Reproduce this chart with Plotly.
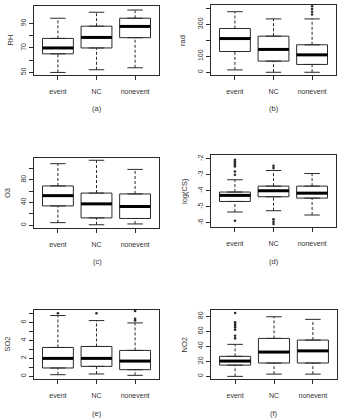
import plotly.graph_objects as go

W, H = 344, 419
categories = ["event", "NC", "nonevent"]

# ---- data ----
rh_low = [50, 52.2, 53.8]
rh_q1 = [65.2, 70.0, 78.4]
rh_med = [70.0, 78.6, 87.6]
rh_q3 = [77.8, 87.8, 94.3]
rh_high = [94.3, 99.2, 101.0]
rh_out = [[], [], []]

rad_low = [15, 0, 0]
rad_q1 = [130, 70, 49]
rad_med = [211, 143, 109]
rad_q3 = [274, 226, 172]
rad_high = [379, 334, 334]
rad_out = [[], [], [362, 379, 396, 413]]

o3_low = [4.7, 1.0, 2.4]
o3_q1 = [34, 13, 12]
o3_med = [52, 37.6, 33]
o3_q3 = [69, 56.5, 55]
o3_high = [108, 114, 98]
o3_out = [[], [], []]

cs_low = [-5.33, -5.25, -5.52]
cs_q1 = [-4.67, -4.375, -4.46]
cs_med = [-4.29, -4.0, -4.15]
cs_q3 = [-4.08, -3.71, -3.71]
cs_high = [-3.31, -2.73, -2.92]
cs_out = [[-2.06, -2.17, -2.27, -2.38, -2.48, -2.79, -3.0, -5.88],
          [-2.44, -2.58, -5.79, -5.94, -6.08], []]

so2_low = [0.18, 0.26, 0.11]
so2_q1 = [0.93, 1.11, 0.74]
so2_med = [2.0, 2.0, 1.7]
so2_q3 = [3.22, 3.33, 2.89]
so2_high = [6.78, 6.22, 5.96]
so2_out = [[7.04], [7.04], [6.22, 6.41, 7.3]]

no2_low = [0, 3, 3]
no2_q1 = [15, 17.8, 17.8]
no2_med = [20.4, 32.4, 34]
no2_q3 = [26.7, 50.6, 48.4]
no2_high = [42.7, 79.5, 76]
no2_out = [[50.7, 54.2, 62.2, 65.3, 67.6, 69.8, 72, 84.4], [], []]

panels = [
    dict(name="RH", tag="(a)", low=rh_low, q1=rh_q1, med=rh_med, q3=rh_q3, high=rh_high, out=rh_out,
         yr=[47.9, 104.3], tv=[50, 60, 70, 80, 90], tt=["50", "", "70", "", "90"],
         px=(34, 159, 6, 75), title_x=10, tag_xy=(97, 108)),
    dict(name="rad", tag="(b)", low=rad_low, q1=rad_q1, med=rad_med, q3=rad_q3, high=rad_high, out=rad_out,
         yr=[-17, 421], tv=[0, 100, 200, 300, 400], tt=["0", "100", "", "300", ""],
         px=(211, 336, 5, 75), title_x=183, tag_xy=(274, 108)),
    dict(name="O3", tag="(c)", low=o3_low, q1=o3_q1, med=o3_med, q3=o3_q3, high=o3_high, out=o3_out,
         yr=[-4.7, 118], tv=[0, 20, 40, 60, 80, 100], tt=["0", "", "40", "", "80", ""],
         px=(34, 159, 158, 228), title_x=7, tag_xy=(97, 261)),
    dict(name="log(CS)", tag="(d)", low=cs_low, q1=cs_q1, med=cs_med, q3=cs_q3, high=cs_high, out=cs_out,
         yr=[-6.27, -1.76], tv=[-6, -5, -4, -3, -2], tt=["-6", "-5", "-4", "-3", "-2"],
         px=(211, 336, 155, 227), title_x=184, tag_xy=(274, 261)),
    dict(name="SO2", tag="(e)", low=so2_low, q1=so2_q1, med=so2_med, q3=so2_q3, high=so2_high, out=so2_out,
         yr=[-0.3, 7.4], tv=[0, 1, 2, 3, 4, 5, 6, 7], tt=["0", "", "2", "", "4", "", "6", ""],
         px=(34, 159, 310, 379), title_x=7, tag_xy=(97, 413)),
    dict(name="NO2", tag="(f)", low=no2_low, q1=no2_q1, med=no2_med, q3=no2_q3, high=no2_high, out=no2_out,
         yr=[-3.5, 88.5], tv=[0, 20, 40, 60, 80], tt=["0", "20", "40", "60", "80"],
         px=(211, 337, 310, 379), title_x=184, tag_xy=(274, 413)),
]

LINE = "#2a2a2a"
TEXT = "#333333"
FONT = "Liberation Sans, Arial, sans-serif"
xpos = [i + 1 for i in range(len(categories))]

fig = go.Figure()
layout = dict(width=W, height=H, margin=dict(l=0, r=0, t=0, b=0), showlegend=False,
              plot_bgcolor="white", paper_bgcolor="white",
              font=dict(family=FONT, size=7, color=TEXT))
annotations = []

for i, p in enumerate(panels, start=1):
    xa = "x" if i == 1 else f"x{i}"
    ya = "y" if i == 1 else f"y{i}"
    x0, x1, y0, y1 = p["px"]
    layout["xaxis" if i == 1 else f"xaxis{i}"] = dict(
        domain=[x0 / W, x1 / W], anchor=ya, range=[0.38, 3.62],
        tickvals=xpos, ticktext=categories, ticks="outside", ticklen=4, tickcolor=LINE,
        showline=True, mirror=True, linecolor=LINE, linewidth=1, showgrid=False, zeroline=False,
        tickfont=dict(size=7, color=TEXT), ticklabelstandoff=6, fixedrange=True)
    layout["yaxis" if i == 1 else f"yaxis{i}"] = dict(
        domain=[1 - y1 / H, 1 - y0 / H], anchor=xa, range=p["yr"],
        tickvals=p["tv"], ticktext=p["tt"], tickangle=-90, ticks="outside", ticklen=4, tickcolor=LINE,
        showline=True, mirror=True, linecolor=LINE, linewidth=1, showgrid=False, zeroline=False,
        tickfont=dict(size=7, color=TEXT), fixedrange=True)

    # box body
    fig.add_trace(go.Box(x=xpos, q1=p["q1"], median=p["med"], q3=p["q3"],
                         lowerfence=p["q1"], upperfence=p["q3"], width=0.8,
                         line=dict(color=LINE, width=1), fillcolor="white",
                         boxpoints=False, xaxis=xa, yaxis=ya, hoverinfo="skip"))
    wx, wy, cx, cy, mx, my = [], [], [], [], [], []
    for k, x in enumerate(xpos):
        wx += [x, x, None, x, x, None]
        wy += [p["low"][k], p["q1"][k], None, p["q3"][k], p["high"][k], None]
        cx += [x - 0.2, x + 0.2, None, x - 0.2, x + 0.2, None]
        cy += [p["low"][k], p["low"][k], None, p["high"][k], p["high"][k], None]
        mx += [x - 0.4, x + 0.4, None]
        my += [p["med"][k], p["med"][k], None]
    fig.add_trace(go.Scatter(x=wx, y=wy, mode="lines", line=dict(color=LINE, width=1, dash="3px,2px"),
                             xaxis=xa, yaxis=ya, hoverinfo="skip"))
    fig.add_trace(go.Scatter(x=cx, y=cy, mode="lines", line=dict(color=LINE, width=1),
                             xaxis=xa, yaxis=ya, hoverinfo="skip"))
    fig.add_trace(go.Scatter(x=mx, y=my, mode="lines", line=dict(color="black", width=3),
                             xaxis=xa, yaxis=ya, hoverinfo="skip"))
    ox, oy = [], []
    for k, x in enumerate(xpos):
        ox += [x] * len(p["out"][k])
        oy += p["out"][k]
    if ox:
        fig.add_trace(go.Scatter(x=ox, y=oy, mode="markers",
                                 marker=dict(symbol="circle", size=2.6, color=LINE),
                                 xaxis=xa, yaxis=ya, hoverinfo="skip"))

    # axis title
    annotations.append(dict(text=p["name"], x=p["title_x"] / W, y=1 - (y0 + y1) / 2 / H,
                            xref="paper", yref="paper", textangle=-90, showarrow=False,
                            xanchor="center", yanchor="middle", font=dict(size=7.5, color=TEXT)))
    # panel tag
    annotations.append(dict(text=p["tag"], x=p["tag_xy"][0] / W, y=1 - p["tag_xy"][1] / H,
                            xref="paper", yref="paper", showarrow=False,
                            xanchor="center", yanchor="middle", font=dict(size=7.5, color=TEXT)))

layout["annotations"] = annotations
fig.update_layout(**layout)
fig.write_html("out.html")
